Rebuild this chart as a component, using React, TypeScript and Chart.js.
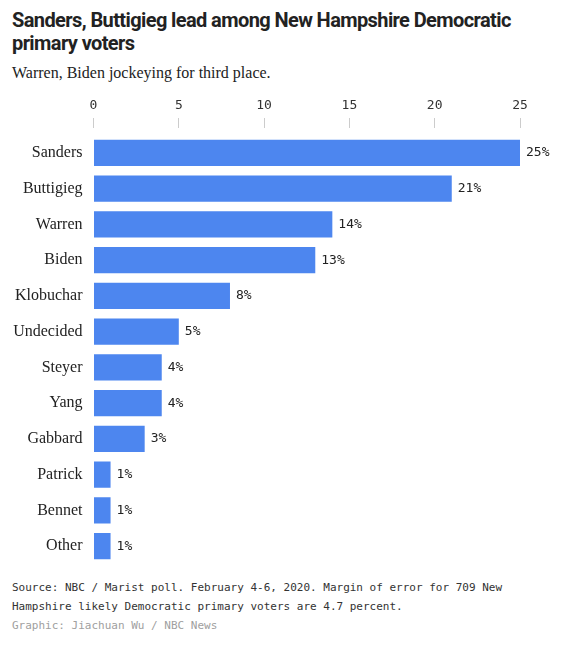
import React, { useEffect, useRef } from "react";
import { Chart, registerables } from "chart.js";

Chart.register(...registerables);

const candidates = [
  "Sanders",
  "Buttigieg",
  "Warren",
  "Biden",
  "Klobuchar",
  "Undecided",
  "Steyer",
  "Yang",
  "Gabbard",
  "Patrick",
  "Bennet",
  "Other",
];
const support = [25, 21, 14, 13, 8, 5, 4, 4, 3, 1, 1, 1];
const axisMax = 25;
const axisStep = 5;

const BAR = "#4d86ef";
const MONO = "'DejaVu Sans Mono', 'Liberation Mono', monospace";
const SERIF = "'Liberation Serif', 'DejaVu Serif', serif";

const valueLabels = {
  id: "valueLabels",
  afterDatasetsDraw(chart: any) {
    const ctx = chart.ctx;
    const meta = chart.getDatasetMeta(0);
    ctx.save();
    ctx.font = `13px ${MONO}`;
    ctx.fillStyle = "#222";
    ctx.textAlign = "left";
    ctx.textBaseline = "middle";
    meta.data.forEach((bar: any, i: number) => {
      ctx.fillText(`${support[i]}%`, bar.x + 6, bar.y);
    });
    ctx.restore();
  },
};

function BarChart() {
  const ref = useRef<HTMLCanvasElement | null>(null);
  useEffect(() => {
    if (!ref.current) return;
    const chart = new Chart(ref.current, {
      type: "bar",
      data: {
        labels: candidates,
        datasets: [
          {
            data: support,
            backgroundColor: BAR,
            borderWidth: 0,
            barPercentage: 0.73,
            categoryPercentage: 1,
          },
        ],
      },
      options: {
        indexAxis: "y",
        animation: false,
        responsive: true,
        maintainAspectRatio: false,
        layout: { padding: { left: 0, right: 40, top: 0, bottom: 0 } },
        plugins: {
          legend: { display: false },
          tooltip: { enabled: false },
        },
        scales: {
          x: {
            position: "top",
            min: 0,
            max: axisMax,
            ticks: {
              stepSize: axisStep,
              color: "#333",
              font: { family: MONO, size: 13 },
              padding: 5,
            },
            grid: {
              drawOnChartArea: false,
              drawTicks: true,
              tickLength: 17,
              tickBorderDash: [10, 30],
              tickColor: "#cccccc",
              tickWidth: 1,
            },
            border: { display: false },
            afterFit: (scale: any) => {
              scale.height = 42;
            },
          },
          y: {
            ticks: {
              color: "#222",
              font: { family: SERIF, size: 16 },
              padding: 11,
            },
            grid: { display: false, drawTicks: false },
            border: { display: false },
            afterFit: (scale: any) => {
              scale.width = 85.5;
              scale.paddingTop = 0;
              scale.paddingBottom = 0;
            },
          },
        },
      },
      plugins: [valueLabels],
    });
    return () => chart.destroy();
  }, []);
  return (
    <div style={{ position: "relative", width: 552, height: 471 }}>
      <canvas ref={ref} />
    </div>
  );
}

export default function App() {
  return (
    <div style={{ width: 552 }}>
      <div
        style={{
          fontFamily: "'Roboto', 'Liberation Sans', sans-serif",
          fontWeight: 700,
          fontSize: 20,
          lineHeight: "23px",
          letterSpacing: "-0.6px",
          color: "#222",
          paddingLeft: 4,
          marginTop: 1,
        }}
      >
        Sanders, Buttigieg lead among New Hampshire Democratic
        <br />
        primary voters
      </div>
      <div
        style={{
          fontFamily: SERIF,
          fontSize: 16,
          lineHeight: "20px",
          color: "#222",
          paddingLeft: 4,
          marginTop: 8,
        }}
      >
        Warren, Biden jockeying for third place.
      </div>
      <div style={{ marginTop: 10 }}>
        <BarChart />
      </div>
      <div
        style={{
          fontFamily: MONO,
          fontSize: 11,
          lineHeight: "19px",
          color: "#333",
          paddingLeft: 4,
          marginTop: 14,
        }}
      >
        Source: NBC / Marist poll. February 4-6, 2020. Margin of error for 709 New
        <br />
        Hampshire likely Democratic primary voters are 4.7 percent.
        <br />
        <span style={{ color: "#a0a0a0" }}>Graphic: Jiachuan Wu / NBC News</span>
      </div>
    </div>
  );
}
